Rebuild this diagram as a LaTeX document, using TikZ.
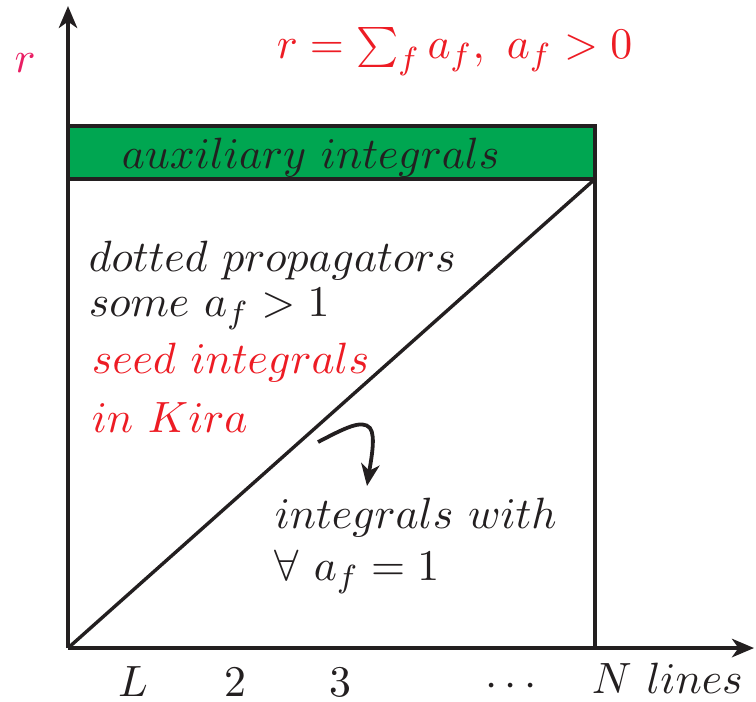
\documentclass[tikz,border=0pt]{standalone}
\usetikzlibrary{arrows.meta}
\definecolor{lk}{RGB}{35,31,32}
\definecolor{gr}{RGB}{0,166,81}
\definecolor{rd}{RGB}{237,28,36}
\definecolor{pk}{RGB}{233,30,99}
\begin{document}
\begin{tikzpicture}[x=0.25pt,y=-0.25pt,
  txt/.style={font=\fontsize{11.35}{13}\selectfont, inner sep=0pt, text=lk},
  ln/.style={draw=lk, line width=0.95pt},
  tip/.style={-{Stealth[length=5.5pt,width=4.6pt,inset=1.6pt]}}]
\useasboundingbox (0,0) rectangle (756,701);
\coordinate (O) at (68,648);
\coordinate (ytop) at (68,6);
\coordinate (xend) at (754,648);
\coordinate (BL) at (68,648);
\coordinate (BR) at (595,648);
\coordinate (TL) at (68,126);
\coordinate (TR) at (595,126);
\coordinate (GL) at (68,179);
\coordinate (GR) at (595,179);
% green band
\fill[gr] (TL) rectangle (GR);
% box
\draw[ln] (GL) -- (TL) -- (TR) -- (BR);
\draw[ln] (GL) -- (GR);
% diagonal
\draw[ln, line width=0.85pt] (O) -- (GR);
% axes
\draw[ln, tip] (O) -- (ytop);
\draw[ln, tip] (O) -- (xend);
% labels
\node[txt, text=pk, anchor=base] (rl) at (25,72) {$r$};
\node[txt, text=rd, anchor=base west] (form) at (276,58) {$r=\sum_f a_f,\ a_f>0$};
\node[txt, anchor=base west] (aux) at (121,168) {$auxiliary\ integrals$};
\node[txt, anchor=base west] (t1) at (88,271) {$dotted\ propagators$};
\node[txt, anchor=base west] (t2) at (88,316) {$some\ a_f>1$};
\node[txt, text=rd, anchor=base west] (t3) at (91,373) {$seed\ integrals$};
\node[txt, text=rd, anchor=base west] (t4) at (91,432) {$in\ Kira$};
\node[txt, anchor=base west] (t5) at (274,528) {$integrals\ with$};
\node[txt, anchor=base west] (t6) at (274,580) {$\forall\ a_f=1$};
\node[txt, anchor=base] (xL) at (133,696) {$L$};
\node[txt, anchor=base] (x2) at (235,696) {$2$};
\node[txt, anchor=base] (x3) at (340,696) {$3$};
\node[txt, anchor=base] (xd) at (511,696) {$\cdots$};
\node[txt, anchor=base west] (xN) at (591,693) {$N\ lines$};
% curved arrow
\coordinate (cs) at (318,442);
\coordinate (ce) at (367,486);
\draw[ln, tip] (cs) .. controls (345,428) and (362,419) .. (370,428) .. controls (376,436) and (371,460) .. (ce);
\end{tikzpicture}
\end{document}
